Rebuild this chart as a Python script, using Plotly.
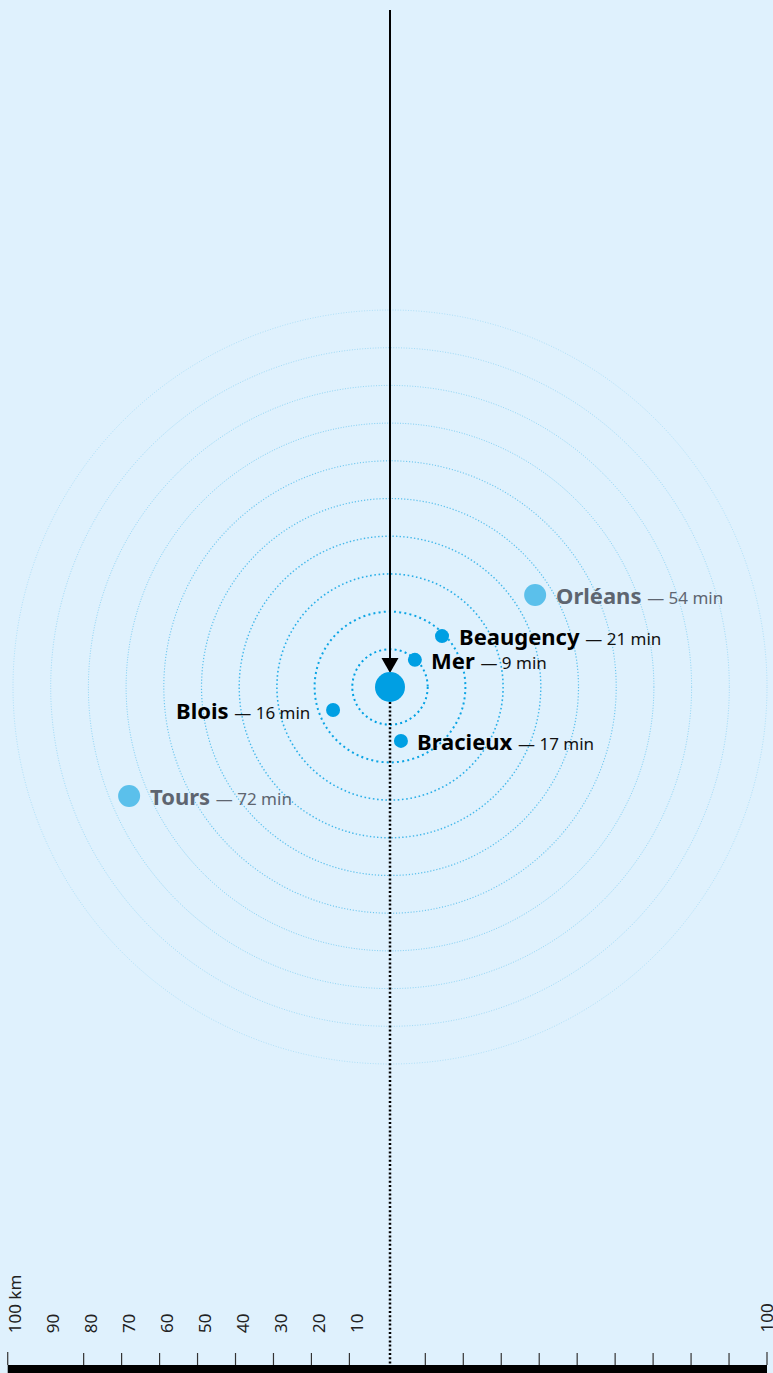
import plotly.graph_objects as go

# ---------------- data (km from centre; +x east, +y north) ----------------
city_names = ["Mer", "Beaugency", "Bracieux", "Blois", "Orléans", "Tours"]
city_x_km = [6.6, 13.8, 2.9, -15.1, 38.5, -69.2]
city_y_km = [7.2, 13.5, -14.3, -6.1, 24.4, -28.9]
city_minutes = [9, 21, 17, 16, 54, 72]
city_tier = ["near", "near", "near", "near", "far", "far"]
city_side = ["right", "right", "right", "left", "right", "right"]

ring_radii_km = [10, 20, 30, 40, 50, 60, 70, 80, 90, 100]

scale_left_ticks = [10, 20, 30, 40, 50, 60, 70, 80, 100]
scale_right_ticks = [10, 20, 30, 40, 50, 60, 70, 80, 90, 100]
scale_left_labels = [10, 20, 30, 40, 50, 60, 70, 80, 90, 100]
scale_left_label_text = ["10", "20", "30", "40", "50", "60", "70", "80", "90", "100 km"]
scale_right_labels = [100]
scale_right_label_text = ["100"]

# ---------------- styling ----------------
W, H = 773, 1373
PX_PER_KM = 3.77
CX_PX, CY_PX = 390, 687
BG = "#DFF1FD"
BLUE = "#009FE3"
LIGHT_BLUE = "#5BC0EB"
GREY = "#5E6570"
FONT = "Noto Sans"

def px(n):
    return n / PX_PER_KM

x_range = [-CX_PX / PX_PER_KM, (W - CX_PX) / PX_PER_KM]
y_range = [-(H - CY_PX) / PX_PER_KM, CY_PX / PX_PER_KM]

fig = go.Figure()
shapes = []
annotations = []

# concentric rings
ring_alpha = [1.0, 0.95, 0.82, 0.7, 0.6, 0.52, 0.44, 0.36, 0.29, 0.22]
ring_width = [2.0, 2.0, 1.6, 1.4, 1.2, 1.1, 1.0, 1.0, 1.0, 1.0]
for r, a, w in zip(ring_radii_km, ring_alpha, ring_width):
    shapes.append(dict(
        type="circle", xref="x", yref="y", x0=-r, x1=r, y0=-r, y1=r,
        line=dict(color=f"rgba(0,160,227,{a})", width=w,
                  dash=f"{w:.1f}px,{w*1.6:.1f}px"),
        layer="below"))

# vertical solid line + arrowhead
top_km = y_range[1] - px(10)
tip_km = px(14)
head_h = px(15)
head_w = px(8.5)
shapes.append(dict(type="line", xref="x", yref="y", x0=0, x1=0,
                   y0=tip_km + head_h - px(1), y1=top_km,
                   line=dict(color="#000000", width=2), layer="below"))
shapes.append(dict(type="path", xref="x", yref="y",
                   path=f"M {-head_w} {tip_km + head_h} L {head_w} {tip_km + head_h} L 0 {tip_km} Z",
                   fillcolor="#000000", line=dict(width=0), layer="below"))

# dotted line down to scale bar
bar_top_km = y_range[0] + px(8)
shapes.append(dict(type="line", xref="x", yref="y", x0=0, x1=0,
                   y0=-px(15), y1=bar_top_km,
                   line=dict(color="#000000", width=2.5, dash="2px,2.2px"),
                   layer="below"))

# scale bar
SCALE_K = 1.007
SCALE_OFF = -0.7
def sx(v):
    return v * SCALE_K + SCALE_OFF

shapes.append(dict(type="rect", xref="x", yref="y",
                   x0=sx(-100), x1=sx(100), y0=y_range[0] - 5, y1=bar_top_km,
                   fillcolor="#000000", line=dict(width=0), layer="above"))
for v in [-t for t in scale_left_ticks] + scale_right_ticks:
    h = 13 if abs(v) == 100 else 12
    shapes.append(dict(type="line", xref="x", yref="y", x0=sx(v), x1=sx(v),
                       y0=bar_top_km, y1=bar_top_km + px(h),
                       line=dict(color="#333333", width=1.2), layer="above"))
for v, t in zip(scale_left_labels, scale_left_label_text):
    annotations.append(dict(x=sx(-v), y=bar_top_km, xref="x", yref="y",
                            text=t, showarrow=False, textangle=-90,
                            xanchor="center", yanchor="bottom",
                            xshift=7, yshift=30,
                            font=dict(family=FONT, size=17, color="#222222")))
for v, t in zip(scale_right_labels, scale_right_label_text):
    annotations.append(dict(x=sx(v), y=bar_top_km, xref="x", yref="y",
                            text=t, showarrow=False, textangle=-90,
                            xanchor="center", yanchor="bottom",
                            xshift=-1, yshift=30,
                            font=dict(family=FONT, size=17, color="#222222")))

# centre dot
fig.add_trace(go.Scatter(x=[0], y=[0], mode="markers",
                         marker=dict(size=30, color=BLUE, line=dict(width=0)),
                         hoverinfo="skip"))

# city dots + labels
for name, x, y, m, tier, side in zip(city_names, city_x_km, city_y_km,
                                     city_minutes, city_tier, city_side):
    far = tier == "far"
    size = 22 if far else 14
    fig.add_trace(go.Scatter(x=[x], y=[y], mode="markers",
                             marker=dict(size=size, color=LIGHT_BLUE if far else BLUE,
                                         line=dict(width=0)),
                             hoverinfo="skip"))
    col = GREY if far else "#000000"
    sub_col = GREY if far else "#111111"
    text = (f"<b>{name}</b> <span style='font-size:17px;color:{sub_col}'>— {m} min</span>")
    off = size / 2 + (7.5 if side == "right" else 14)
    annotations.append(dict(x=x, y=y, xref="x", yref="y", text=text,
                            showarrow=False,
                            xanchor="left" if side == "right" else "right",
                            yanchor="middle",
                            xshift=off if side == "right" else -off,
                            font=dict(family=FONT, size=22, color=col)))

fig.update_layout(
    width=W, height=H,
    margin=dict(l=0, r=0, t=0, b=0),
    paper_bgcolor=BG, plot_bgcolor=BG,
    showlegend=False,
    xaxis=dict(range=x_range, visible=False, fixedrange=True),
    yaxis=dict(range=y_range, visible=False, fixedrange=True),
    shapes=shapes, annotations=annotations,
)

fig.write_html(
    "out.html",
    config={"displayModeBar": False},
    post_script="document.body.style.margin='0';document.body.style.overflow='hidden';",
)
